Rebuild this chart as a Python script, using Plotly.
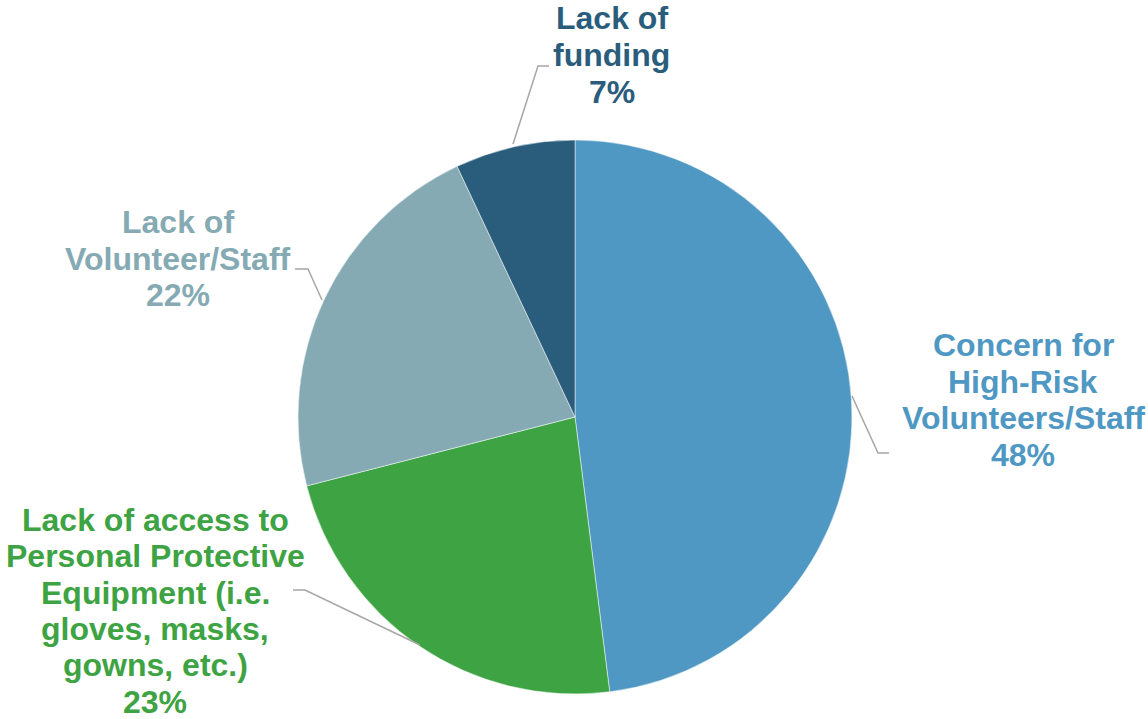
import plotly.graph_objects as go

W, H = 1148, 719

categories = [
    "Concern for High-Risk Volunteers/Staff",
    "Lack of access to Personal Protective Equipment (i.e. gloves, masks, gowns, etc.)",
    "Lack of Volunteer/Staff",
    "Lack of funding",
]
values = [48, 23, 22, 7]
colors = ["#4F98C4", "#3DA343", "#85AAB4", "#2A5D7C"]
label_lines = [
    ["Concern for", "High-Risk", "Volunteers/Staff"],
    ["Lack of access to", "Personal Protective", "Equipment (i.e.", "gloves, masks,", "gowns, etc.)"],
    ["Lack of", "Volunteer/Staff"],
    ["Lack of", "funding"],
]

# layout positions (pixels) for labels: center x, first line y, line step
label_pos = [(1023, 345, 36.7), (155, 520, 36.3), (178, 222, 36.5), (612, 18, 37)]
# leader line polylines (pixels)
leaders = [
    [(852, 396), (878, 453), (889, 453)],
    [(420, 645), (305, 590), (293, 590)],
    [(322, 300), (308, 269), (295, 269)],
    [(513, 144), (538, 66), (549, 66)],
]

def px(x):
    return x / W

def py(y):
    return 1 - y / H

fig = go.Figure()
fig.add_trace(go.Pie(
    labels=categories,
    values=values,
    sort=False,
    direction="clockwise",
    rotation=0,
    marker=dict(colors=colors, line=dict(color="white", width=0.5)),
    textinfo="none",
    hoverinfo="label+percent",
    showlegend=False,
    domain=dict(x=[px(298), px(852)], y=[py(694), py(140)]),
))

annotations = []
total = sum(values)
for lines, v, c, (cx, y0, step) in zip(label_lines, values, colors, label_pos):
    pct = f"{round(v / total * 100)}%"
    all_lines = lines + [pct]
    for i, t in enumerate(all_lines):
        annotations.append(dict(
            x=px(cx), y=py(y0 + i * step), xref="paper", yref="paper",
            text=f"<b>{t}</b>", showarrow=False, xanchor="center", yanchor="middle",
            font=dict(family="Liberation Sans, Arial, sans-serif", size=32, color=c),
        ))

shapes = []
for pts in leaders:
    path = "M " + " L ".join(f"{px(x)},{py(y)}" for x, y in pts)
    shapes.append(dict(type="path", path=path, xref="paper", yref="paper",
                       line=dict(color="#A6A6A6", width=1.5)))

fig.update_layout(
    width=W, height=H,
    margin=dict(l=0, r=0, t=0, b=0),
    paper_bgcolor="white", plot_bgcolor="white",
    annotations=annotations,
    shapes=shapes,
)

fig.write_html(
    "out.html",
    config={"displayModeBar": False},
    post_script="document.body.style.margin='0';document.body.style.overflow='hidden';",
)
